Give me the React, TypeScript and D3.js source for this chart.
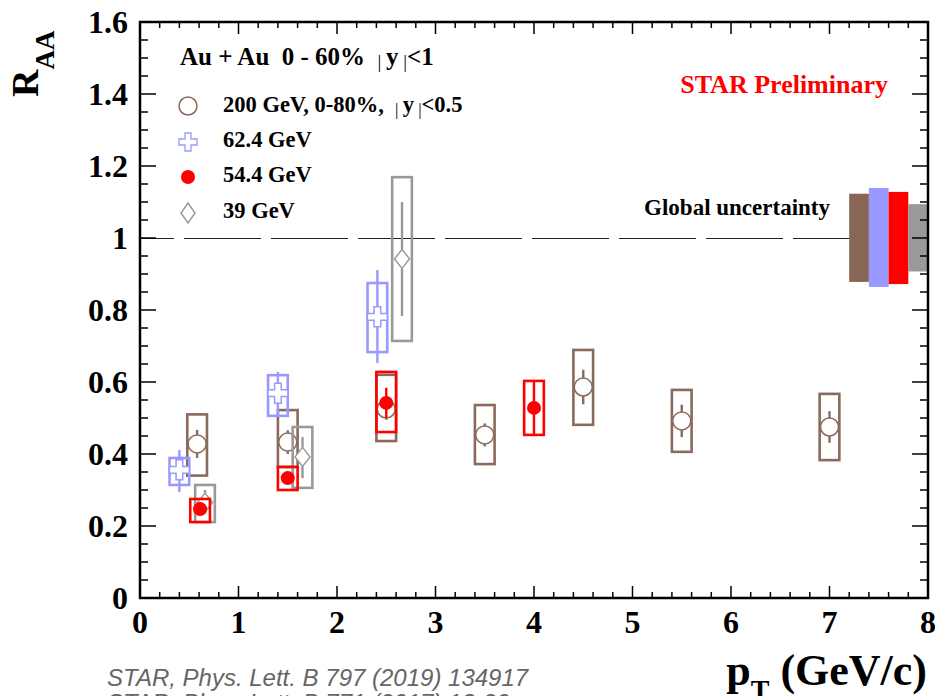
import { useEffect } from "react";
import * as d3 from "d3";

const W = 935;
const H = 696;

// 200 GeV, 0-80%, |y|<0.5
const pt200 = [0.58, 1.5, 2.5, 3.5, 4.5, 5.5, 7.0];
const raa200 = [0.428, 0.433, 0.525, 0.453, 0.586, 0.492, 0.475];
const stat200 = [0.039, 0.033, 0.03, 0.032, 0.048, 0.045, 0.044];
const sysLo200 = [0.34, 0.364, 0.436, 0.372, 0.481, 0.406, 0.383];
const sysHi200 = [0.51, 0.522, 0.62, 0.536, 0.689, 0.578, 0.567];

// 62.4 GeV
const pt62 = [0.4, 1.4, 2.41];
const raa62 = [0.356, 0.569, 0.781];
const statLo62 = [0.294, 0.508, 0.653];
const statHi62 = [0.411, 0.628, 0.911];
const sysLo62 = [0.314, 0.506, 0.683];
const sysHi62 = [0.389, 0.619, 0.875];

// 54.4 GeV
const pt54 = [0.61, 1.5, 2.5, 4.0];
const raa54 = [0.247, 0.333, 0.542, 0.528];
const stat54 = [0.015, 0.012, 0.042, 0.075];
const sysLo54 = [0.211, 0.3, 0.461, 0.453];
const sysHi54 = [0.275, 0.364, 0.628, 0.603];

// 39 GeV
const pt39 = [0.66, 1.65, 2.66];
const raa39 = [0.265, 0.392, 0.942];
const statLo39 = [0.235, 0.333, 0.783];
const statHi39 = [0.3, 0.447, 1.1];
const sysLo39 = [0.211, 0.306, 0.714];
const sysHi39 = [0.314, 0.475, 1.169];

// global uncertainty boxes (200, 62.4, 54.4, 39)
const globalX = [7.2, 7.4, 7.6, 7.8];
const globalLo = [0.878, 0.864, 0.872, 0.907];
const globalHi = [1.123, 1.139, 1.128, 1.094];

const BROWN = "#8a6a5a";
const BLUE = "#9999ff";
const RED = "#ff0000";
const GRAY = "#999999";
const globalColors = ["#886655", "#9999ff", "#ff0000", "#999999"];

const serif = "'Liberation Serif', 'Times New Roman', serif";
const sans = "'Liberation Sans', Arial, sans-serif";

const x = d3.scaleLinear().domain([0, 8]).range([140, 928]);
const y = d3.scaleLinear().domain([0, 1.6]).range([598, 22]);
const boxHalf = 0.1;

const crossPath = (cx: number, cy: number, s: number) => {
    const a = s / 3;
    return `M${cx - a},${cy - s}H${cx + a}V${cy - a}H${cx + s}V${cy + a}H${cx + a}V${cy + s}H${cx - a}V${cy + a}H${cx - s}V${cy - a}H${cx - a}Z`;
};

const diamondPath = (cx: number, cy: number, w: number, h: number) =>
    `M${cx},${cy - h}L${cx + w},${cy}L${cx},${cy + h}L${cx - w},${cy}Z`;

// vertical error bar that stops at the marker edge
const statBar = (cx: number, cy: number, top: number, bottom: number, gap: number, color: string, key: string) => (
    <g key={key} stroke={color} strokeWidth={2.4}>
        {top < cy - gap && <line x1={cx} x2={cx} y1={top} y2={cy - gap} />}
        {bottom > cy + gap && <line x1={cx} x2={cx} y1={cy + gap} y2={bottom} />}
    </g>
);

const sysBox = (p: number, lo: number, hi: number, color: string, key: string) => (
    <rect key={key} x={x(p - boxHalf)} y={y(hi)} width={x(p + boxHalf) - x(p - boxHalf)} height={y(lo) - y(hi)}
        fill="none" stroke={color} strokeWidth={2.6} />
);

// thin, lowered bars of |y|
const Bars = ({ t }: { t: string }) => (
    <tspan fontWeight="normal" fontSize="0.75em" dy="3">{t}</tspan>
);

const App = () => {
    useEffect(() => {
        document.body.style.margin = "0";
    }, []);

    const xMajor = d3.range(0, 9, 1);
    const xMinor = d3.range(0, 8.001, 0.2);
    const yMajor = d3.range(0, 1.601, 0.2);
    const yMinor = d3.range(0, 1.601, 0.05);
    const fmt = d3.format(".1~f");
    const [x0, x1] = x.range();
    const [y0, y1] = y.range();

    return (
        <svg width={W} height={H} style={{ display: "block", background: "#fff" }}>
            {/* dashed line at 1 */}
            <line x1={x(0)} x2={x(7.2)} y1={y(1) + 0.5} y2={y(1) + 0.5} stroke="#222" strokeWidth={1}
                strokeDasharray="77,10" strokeDashoffset={43} />

            {/* global uncertainty */}
            {globalX.map((g, i) => (
                <rect key={"g" + i} x={x(g)} y={y(globalHi[i])} width={x(g + 0.2) - x(g)}
                    height={y(globalLo[i]) - y(globalHi[i])} fill={globalColors[i]} />
            ))}
            <text x={830} y={215} textAnchor="end" fontFamily={serif} fontWeight="bold" fontSize={23}>Global uncertainty</text>

            {/* 200 GeV */}
            {pt200.map((p, i) => sysBox(p, sysLo200[i], sysHi200[i], BROWN, "b" + i))}
            {pt200.map((p, i) => statBar(x(p), y(raa200[i]), y(raa200[i] + stat200[i]), y(raa200[i] - stat200[i]), 9, BROWN, "bs" + i))}
            {pt200.map((p, i) => (
                <circle key={"bc" + i} cx={x(p)} cy={y(raa200[i])} r={9} fill="#fff" stroke={BROWN} strokeWidth={1.5} />
            ))}

            {/* 62.4 GeV */}
            {pt62.map((p, i) => sysBox(p, sysLo62[i], sysHi62[i], BLUE, "u" + i))}
            {pt62.map((p, i) => statBar(x(p), y(raa62[i]), y(statHi62[i]), y(statLo62[i]), 10, BLUE, "us" + i))}
            {pt62.map((p, i) => (
                <path key={"uc" + i} d={crossPath(x(p), y(raa62[i]), 10)} fill="#fff" stroke={BLUE} strokeWidth={1.5} />
            ))}

            {/* 39 GeV */}
            {pt39.map((p, i) => sysBox(p, sysLo39[i], sysHi39[i], GRAY, "g" + i))}
            {pt39.map((p, i) => statBar(x(p), y(raa39[i]), y(statHi39[i]), y(statLo39[i]), 9.5, GRAY, "gs" + i))}
            {pt39.map((p, i) => (
                <path key={"gd" + i} d={diamondPath(x(p), y(raa39[i]), 7.5, 9.5)} fill="#fff" stroke={GRAY} strokeWidth={1.5} />
            ))}

            {/* 54.4 GeV */}
            {pt54.map((p, i) => sysBox(p, sysLo54[i], sysHi54[i], RED, "r" + i))}
            {pt54.map((p, i) => statBar(x(p), y(raa54[i]), y(raa54[i] + stat54[i]), y(raa54[i] - stat54[i]), 0, RED, "rs" + i))}
            {pt54.map((p, i) => (
                <circle key={"rc" + i} cx={x(p)} cy={y(raa54[i])} r={7} fill={RED} />
            ))}

            {/* frame and ticks */}
            <rect x={x0} y={y1} width={x1 - x0} height={y0 - y1} fill="none" stroke="#000" strokeWidth={2.5} />
            <g stroke="#000" strokeWidth={1.5}>
                {xMinor.map((t, i) => {
                    const major = Math.abs(t - Math.round(t)) < 1e-6;
                    const len = major ? 12 : 6;
                    return (
                        <g key={"xt" + i}>
                            <line x1={x(t)} x2={x(t)} y1={y0} y2={y0 - len} />
                            <line x1={x(t)} x2={x(t)} y1={y1} y2={y1 + len} />
                        </g>
                    );
                })}
                {yMinor.map((t, i) => {
                    const major = Math.abs(t / 0.2 - Math.round(t / 0.2)) < 1e-6;
                    const len = major ? 16 : 8;
                    return (
                        <g key={"yt" + i}>
                            <line x1={x0} x2={x0 + len} y1={y(t)} y2={y(t)} />
                            <line x1={x1} x2={x1 - len} y1={y(t)} y2={y(t)} />
                        </g>
                    );
                })}
            </g>

            {/* tick labels */}
            <g fontFamily={serif} fontWeight="bold" fontSize={32}>
                {xMajor.map((t) => (
                    <text key={"xl" + t} x={x(t)} y={633} textAnchor="middle">{t}</text>
                ))}
                {yMajor.map((t, i) => (
                    <text key={"yl" + i} x={128} y={y(t) + 11} textAnchor="end">{fmt(t)}</text>
                ))}
            </g>

            {/* axis titles */}
            <text x={927} y={685} textAnchor="end" fontFamily={serif} fontWeight="bold" fontSize={44}>
                p<tspan fontSize={28} dy={14}>T</tspan><tspan dy={-14}> (GeV/c)</tspan>
            </text>
            <text transform="translate(38,97) rotate(-90)" fontFamily={serif} fontWeight="bold" fontSize={38}>
                R<tspan fontSize={27} dy={16}>AA</tspan>
            </text>

            {/* legend */}
            <g fontFamily={serif} fontWeight="bold">
                <text x={180} y={65} fontSize={25} xmlSpace="preserve">
                    Au + Au  0 - 60%  <Bars t="| " /><tspan dy="-3">y</tspan><Bars t=" |" /><tspan dy="-3">&lt;1</tspan>
                </text>
                <circle cx={188} cy={106} r={9} fill="#fff" stroke={BROWN} strokeWidth={1.5} />
                <text x={223} y={112} fontSize={22.5} xmlSpace="preserve">
                    200 GeV, 0-80%,  <Bars t="| " /><tspan dy="-3">y</tspan><Bars t=" |" /><tspan dy="-3">&lt;0.5</tspan>
                </text>
                <path d={crossPath(188, 142, 9)} fill="#fff" stroke={BLUE} strokeWidth={1.3} />
                <text x={223} y={147} fontSize={22.5}>62.4 GeV</text>
                <circle cx={188} cy={177} r={7} fill={RED} />
                <text x={223} y={182} fontSize={22.5}>54.4 GeV</text>
                <path d={diamondPath(188, 213, 7, 10)} fill="#fff" stroke={GRAY} strokeWidth={1.5} />
                <text x={223} y={218} fontSize={22.5}>39 GeV</text>
            </g>

            <text x={888} y={93} textAnchor="end" fontFamily={serif} fontWeight="bold" fontSize={26} fill={RED}>STAR Preliminary</text>

            {/* references */}
            <g fontFamily={sans} fontStyle="italic" fontSize={24} fill="#666">
                <text x={107} y={686}>STAR, Phys. Lett. B 797 (2019) 134917</text>
                <text x={107} y={711}>STAR, Phys. Lett. B 771 (2017) 13-20</text>
            </g>
        </svg>
    );
};

export default App;
